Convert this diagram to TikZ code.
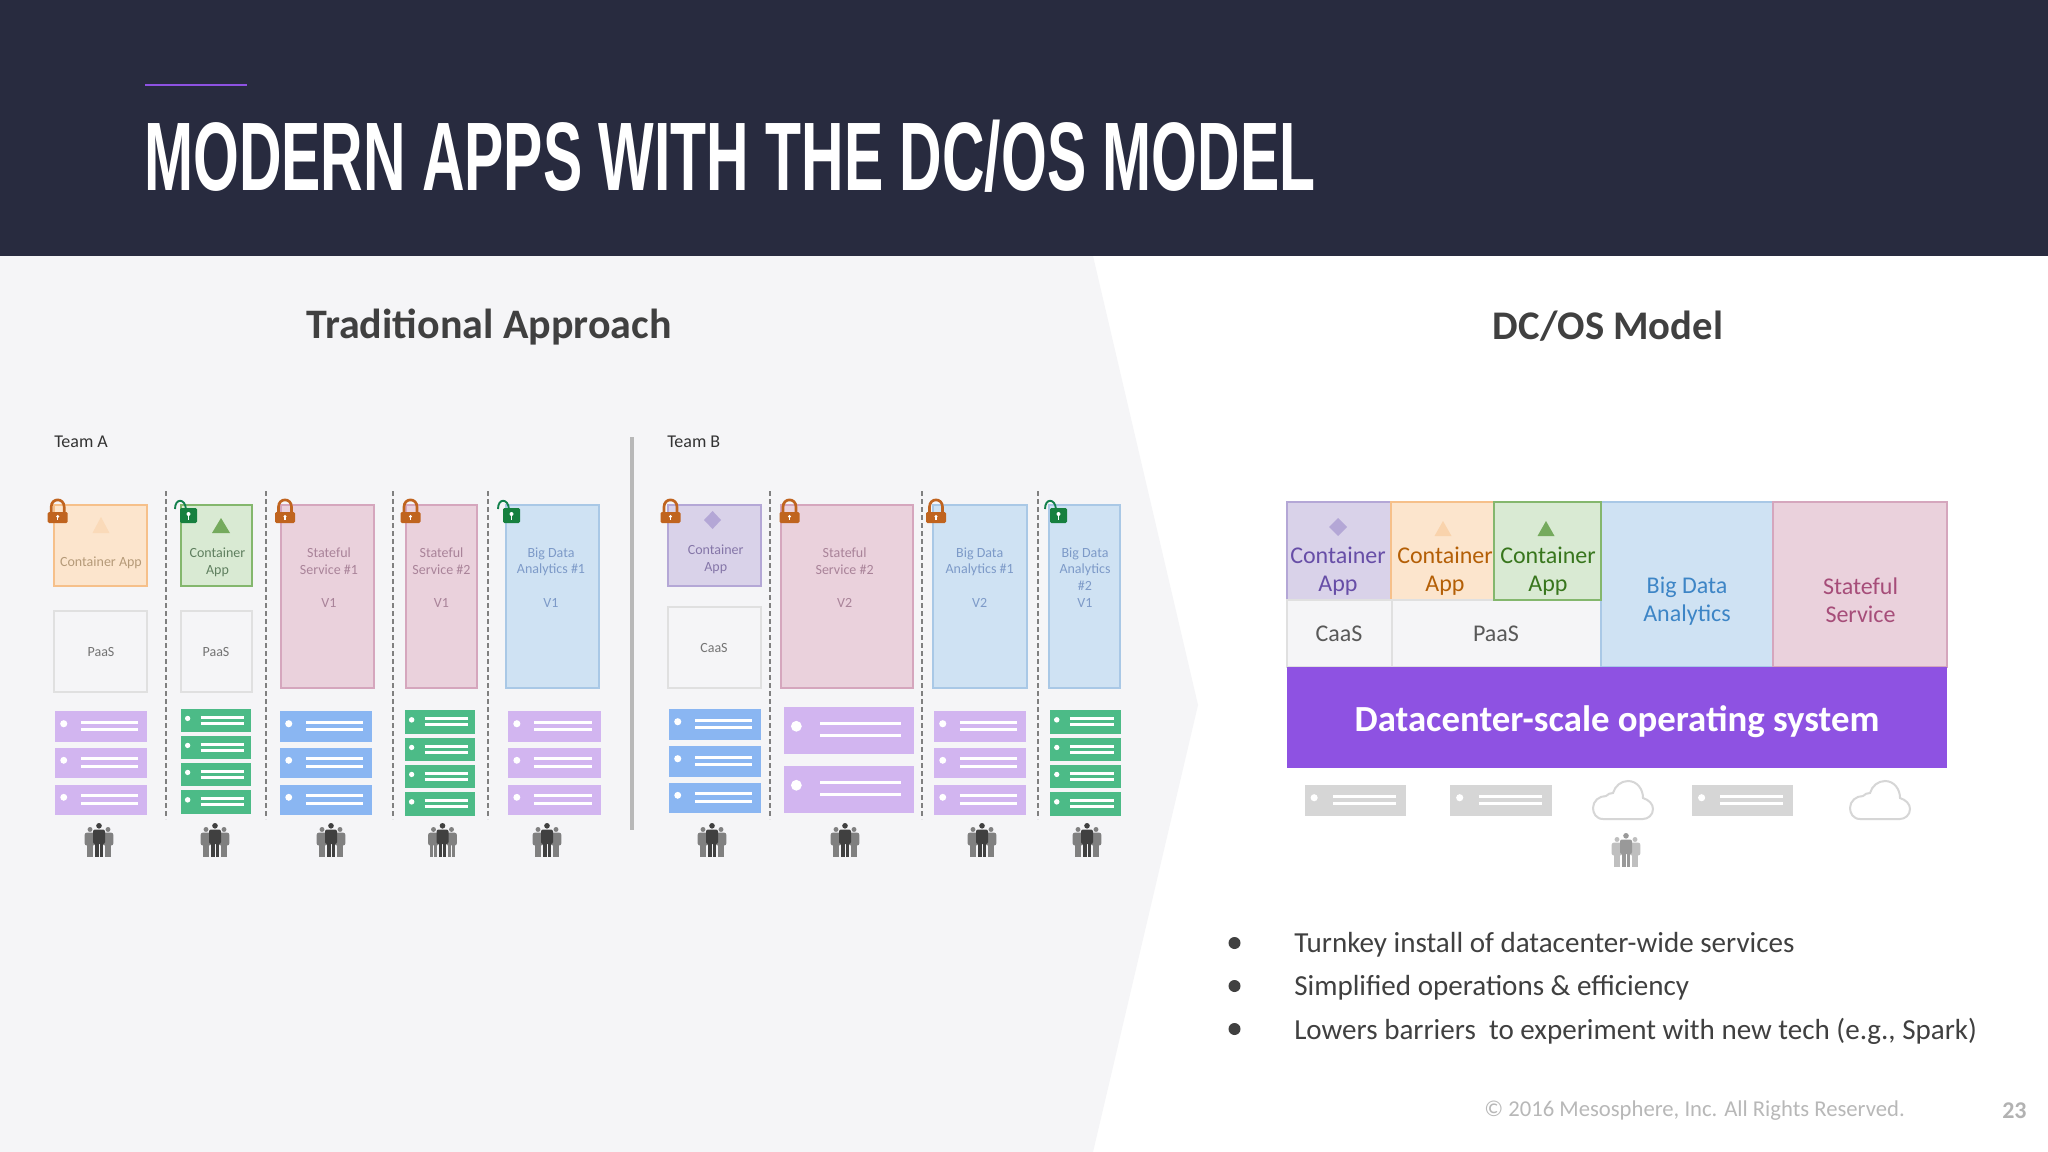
\documentclass[tikz,border=0pt]{standalone}
\usepackage{fontspec}
\setmainfont{Carlito}
\newfontfamily\titlefont{Liberation Sans}
\usetikzlibrary{calc, positioning}

\definecolor{headdark}{HTML}{282B3F}
\definecolor{panelgray}{HTML}{F5F5F7}
\definecolor{osviolet}{HTML}{8E52E2}
\definecolor{rackpurple}{HTML}{D2B5F0}
\definecolor{rackgreen}{HTML}{4CBB87}
\definecolor{rackblue}{HTML}{8AB6F2}
\definecolor{rackgray}{HTML}{D6D6D6}
\definecolor{lockorange}{HTML}{C0641F}
\definecolor{lockgreen}{HTML}{17803F}
\definecolor{fillorange}{HTML}{FCE5CD}
\definecolor{fillgreen}{HTML}{D9EAD3}
\definecolor{fillpink}{HTML}{EAD1DC}
\definecolor{fillblue}{HTML}{CFE2F3}
\definecolor{fillpurple}{HTML}{D9D2E9}
\definecolor{lineorange}{HTML}{F6C08A}
\definecolor{linegreen}{HTML}{84B76D}
\definecolor{linepink}{HTML}{D5A6BD}
\definecolor{lineblue}{HTML}{A9C8E6}
\definecolor{linepurple}{HTML}{B4A7D6}
\definecolor{textorange}{HTML}{B45F06}
\definecolor{textgreen}{HTML}{38761D}
\definecolor{textpink}{HTML}{A64D79}
\definecolor{textblue}{HTML}{3D85C6}
\definecolor{textpurple}{HTML}{674EA7}
\definecolor{dimorange}{HTML}{B59A78}
\definecolor{dimgreen}{HTML}{5F7F5F}
\definecolor{dimpink}{HTML}{A98399}
\definecolor{dimblue}{HTML}{7D9AC8}
\definecolor{dimpurple}{HTML}{8576A8}

\tikzset{
	orangebox/.style={fill=fillorange, draw=lineorange},
	greenbox/.style={fill=fillgreen, draw=linegreen},
	pinkbox/.style={fill=fillpink, draw=linepink},
	bluebox/.style={fill=fillblue, draw=lineblue},
	purplebox/.style={fill=fillpurple, draw=linepurple},
	plainbox/.style={fill=panelgray, draw=black!12},
	smalllabel/.style={font=\fontsize{10.5}{12.5}\selectfont, align=center, inner sep=0pt},
	biglabel/.style={font=\fontsize{18}{21}\selectfont, align=center, inner sep=0pt},
	teamlabel/.style={font=\fontsize{13.5}{16}\selectfont, text=black!80, anchor=west, inner sep=0pt},
	headlabel/.style={font=\bfseries\fontsize{31.5}{36}\selectfont, text=black!75, inner sep=0pt},
	bulletlabel/.style={font=\fontsize{21.8}{26}\selectfont, text=black!75, anchor=west, inner sep=0pt},
	pics/person/.style={code={
		\fill[#1] (0,2.8) circle (2.8);
		\fill[#1, rounded corners=1.5pt] (-6,6.5) rectangle (6,21);
		\fill[#1] (-3.8,20) rectangle (-0.5,34);
		\fill[#1] (0.5,20) rectangle (3.8,34);
	}},
	pics/crowd/.style 2 args={code={
		\pic[scale=0.88] at (-9,4) {person=#1};
		\pic[scale=0.88] at (9,4) {person=#1};
		\pic {person=#2};
	}},
	pics/shutlock/.style={code={
		\draw[lockorange, line width=2pt] (-6.5,13) -- (-6.5,7) .. controls (-6.5,-2.5) and (6.5,-2.5) .. (6.5,7) -- (6.5,13);
		\fill[lockorange, rounded corners=1pt] (-10,12) rectangle (10,23);
		\fill[white] (0,16.5) circle (1.6);
		\fill[white] (-0.7,16.5) rectangle (0.7,20);
	}},
	pics/openlock/.style={code={
		\draw[lockgreen!80!teal, line width=1.4pt] (5,9) .. controls (4,-2) and (-6,-2) .. (-6,9);
		\fill[lockgreen, rounded corners=1pt] (-1,8) rectangle (16,23);
		\fill[white] (7.5,14) circle (2);
		\fill[white] (6.6,14) rectangle (8.4,20);
	}},
	pics/cloud/.style={code={
		\draw[rackgray, line width=1.5pt, fill=white] (10,38) .. controls (3,38) and (0,32) .. (0,27)
			.. controls (0,20) and (6,15) .. (13,15) .. controls (15,13) and (17,12) .. (20,12)
			.. controls (22,5) and (28,0) .. (35,0) .. controls (44,0) and (50,8) .. (50,17)
			.. controls (56,19) and (60,23) .. (60,28) .. controls (60,34) and (55,38) .. (50,38) -- cycle;
	}}
}

% one server: left, right, top, bottom, colour
\newcommand{\rack}[5]{
	\pgfmathsetmacro{\rackw}{#2-#1}
	\pgfmathsetmacro{\rackh}{#4-#3}
	\fill[#5] (#1,#3) rectangle (#2,#4);
	\fill[white] ({#1+0.095*\rackw},{#3+0.41*\rackh}) circle ({0.115*\rackh});
	\draw[white, line width=2.2pt] ({#1+0.28*\rackw},{#3+0.36*\rackh}) -- ({#1+0.90*\rackw},{#3+0.36*\rackh});
	\draw[white, line width=2.2pt] ({#1+0.28*\rackw},{#3+0.61*\rackh}) -- ({#1+0.90*\rackw},{#3+0.61*\rackh});
}

\begin{document}
\begin{tikzpicture}[x=0.75pt, y=-0.75pt]
	\useasboundingbox (0,0) rectangle (2048,1152);
	\fill[white] (0,0) rectangle (2048,1152);
	\fill[panelgray] (0,256) -- (1093,256) -- (1198,705) -- (1093,1152) -- (0,1152) -- cycle;
	\fill[headdark] (0,0) rectangle (2048,256);
	\draw[osviolet, line width=2pt] (145,85) -- (247,85);
	\node[anchor=west, xscale=0.605, inner sep=0pt, text=white, font=\titlefont\bfseries\fontsize{73}{80}\selectfont] (slidetitle) at (144,156) {MODERN APPS WITH THE DC/OS MODEL};
	\node[headlabel] (tradhead) at (489,327) {Traditional Approach};
	\node[headlabel, font=\bfseries\fontsize{30.5}{36}\selectfont] (oshead) at (1608,326) {DC/OS Model};
	\node[teamlabel] (teama) at (54,442) {Team A};
	\node[teamlabel] (teamb) at (667,442) {Team B};
	\draw[black!28, line width=2.5pt] (632,437) -- (632,830);
	\foreach \sepx in {166,266,393,488,770,922,1038}
		\draw[black!50, line width=1.5pt, dash pattern=on 3.5pt off 2.5pt] (\sepx,491) -- (\sepx,819);

	% team boxes
	\foreach \xa/\ya/\xb/\yb/\boxstyle in {54/505/147/586/orangebox, 181/505/252/586/greenbox, 54/611/147/692/plainbox, 181/611/252/692/plainbox,
			281/505/374/688/pinkbox, 406/505/477/688/pinkbox, 506/505/599/688/bluebox, 667.5/505/760.5/586/purplebox, 667.5/607/760.5/688/plainbox,
			781/505/913/688/pinkbox, 933/505/1027/688/bluebox, 1049/505/1120/688/bluebox}
		\draw[\boxstyle, line width=1.5pt] (\xa,\ya) rectangle (\xb,\yb);
	\node[smalllabel, text=dimorange] (orangeapp) at (101,562.5) {Container App};
	\node[smalllabel, text=dimgreen] (greenapp) at (217.5,562.5) {Container\\App};
	\node[smalllabel, text=black!55] (paasa) at (101,652) {PaaS};
	\node[smalllabel, text=black!55] (paasb) at (216,652) {PaaS};
	\node[smalllabel, text=dimpink] (statea) at (329,577.5) {Stateful\\Service \#1\\~\\V1};
	\node[smalllabel, text=dimpink] (stateb) at (441.5,577.5) {Stateful\\Service \#2\\~\\V1};
	\node[smalllabel, text=dimblue] (dataa) at (551,577.5) {Big Data\\Analytics \#1\\~\\V1};
	\node[smalllabel, text=dimpurple] (purpleapp) at (715.7,559) {Container\\App};
	\node[smalllabel, text=black!55] (caasb) at (714,647.7) {CaaS};
	\node[smalllabel, text=dimpink] (statec) at (844.6,577.5) {Stateful\\Service \#2\\~\\V2};
	\node[smalllabel, text=dimblue] (datab) at (979.7,577.5) {Big Data\\Analytics \#1\\~\\V2};
	\node[smalllabel, text=dimblue] (datac) at (1085,577.5) {Big Data\\Analytics\\\#2\\V1};

	\fill[fillorange!70!lineorange] (101,517) -- (109.5,533) -- (92.5,533) -- cycle;
	\fill[linegreen!80!textgreen] (221,518) -- (230,533) -- (212,533) -- cycle;
	\fill[linepurple] (712.6,511) -- (721,520) -- (712.6,529) -- (704,520) -- cycle;

	% servers of the teams
	\foreach \ya/\yb in {711/742, 748/778, 785/815} {
		\rack{55}{147}{\ya}{\yb}{rackpurple}
		\rack{280}{372}{\ya}{\yb}{rackblue}
		\rack{508}{601}{\ya}{\yb}{rackpurple}
		\rack{934}{1026}{\ya}{\yb}{rackpurple}
	}
	\foreach \ya/\yb in {709/732, 736/759, 763/786, 790/814} {
		\rack{181}{251}{\ya}{\yb}{rackgreen}
	}
	\foreach \ya/\yb in {710/734, 738/761, 765/788, 792/816} {
		\rack{405}{475}{\ya}{\yb}{rackgreen}
		\rack{1050}{1121}{\ya}{\yb}{rackgreen}
	}
	\foreach \ya/\yb in {709/740, 746/777, 783/813} {
		\rack{669}{761}{\ya}{\yb}{rackblue}
	}
	\rack{784}{914}{707}{754}{rackpurple}
	\rack{784}{914}{766}{813}{rackpurple}

	\foreach \crowdx in {99,215,331,442.5,547,712,845,982,1087}
		\pic at (\crowdx,823) {crowd={black!50}{black!75}};
	\foreach \lockx in {57.7,285,410.5,670.5,789.5,936}
		\pic at (\lockx,500) {shutlock};
	\foreach \lockx in {181,504,1051}
		\pic at (\lockx,500) {openlock};

	% dc/os stack
	\draw[purplebox, line width=1.5pt] (1287,502) rectangle (1391,600);
	\draw[orangebox, line width=1.5pt] (1391,502) rectangle (1494,600);
	\draw[plainbox, line width=1.5pt] (1287,600) rectangle (1392,667);
	\draw[plainbox, line width=1.5pt] (1392,600) rectangle (1601,667);
	\draw[bluebox, line width=1.5pt] (1601,502) rectangle (1773,667);
	\draw[pinkbox, line width=1.5pt] (1773,502) rectangle (1947,667);
	\draw[greenbox, line width=1.5pt] (1494,502) rectangle (1601,600);
	\fill[linepurple] (1338,518) -- (1347,527) -- (1338,536) -- (1329,527) -- cycle;
	\fill[fillorange!50!lineorange] (1443,521) -- (1451.5,536) -- (1434.5,536) -- cycle;
	\fill[linegreen!80!textgreen] (1546,521) -- (1554.5,536) -- (1537.5,536) -- cycle;
	\node[biglabel, text=textpurple] (stackpurple) at (1338,571) {Container\\App};
	\node[biglabel, text=textorange] (stackorange) at (1445,571) {Container\\App};
	\node[biglabel, text=textgreen] (stackgreen) at (1548,571) {Container\\App};
	\node[biglabel, text=black!65] (stackcaas) at (1339,634) {CaaS};
	\node[biglabel, text=black!65] (stackpaas) at (1496,634) {PaaS};
	\node[biglabel, text=textblue] (stackdata) at (1687,601) {Big Data\\Analytics};
	\node[biglabel, text=textpink] (stackstate) at (1860.5,600) {Stateful\\Service};
	\fill[osviolet] (1287,667) rectangle (1947,768);
	\node[white, inner sep=0pt, font=\bfseries\fontsize{27.6}{30}\selectfont] (osbar) at (1617,722) {Datacenter-scale operating system};
	\foreach \xa/\xb in {1304.5/1406, 1450/1552, 1692/1793} {
		\rack{\xa}{\xb}{785}{816}{rackgray}
	}
	\foreach \cloudx in {1593,1850}
		\pic at (\cloudx,781) {cloud};
	\pic at (1626,833) {crowd={black!25}{black!40}};

	% bullets
	\foreach \bully in {943,986,1029}
		\fill[black!75] (1234.5,\bully) circle (6);
	\node[bulletlabel] (bulleta) at (1294,945) {Turnkey install of datacenter-wide services};
	\node[bulletlabel] (bulletb) at (1294,988) {Simplified operations \& efficiency};
	\node[bulletlabel] (bulletc) at (1294,1031) {Lowers barriers\ \ to experiment with new tech (e.g., Spark)};
	\node[anchor=west, inner sep=0pt, text=black!28, font=\fontsize{17}{20}\selectfont] (copyline) at (1484,1111) {© 2016 Mesosphere, Inc. All Rights Reserved.};
	\node[anchor=west, inner sep=0pt, text=black!30, font=\bfseries\fontsize{18}{20}\selectfont] (pagenum) at (2002,1111) {23};
\end{tikzpicture}
\end{document}
